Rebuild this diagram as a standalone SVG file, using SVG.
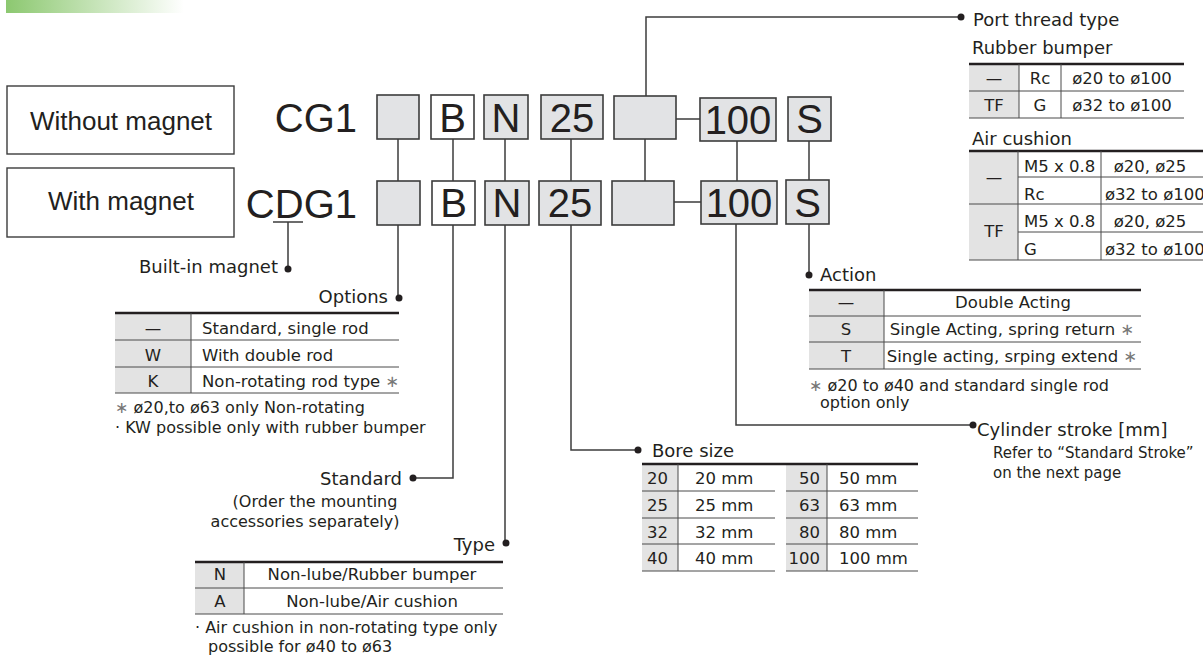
<svg xmlns="http://www.w3.org/2000/svg" width="1203" height="656" viewBox="0 0 1203 656">
<defs>
<linearGradient id="gb" x1="0" y1="0" x2="1" y2="0">
<stop offset="0" stop-color="#8cc870"/>
<stop offset="1" stop-color="#ffffff"/>
</linearGradient>
</defs>
<style>
text{fill:#231f20}
.lbl{font-family:"DejaVu Sans",sans-serif;font-size:18px}
.tb{font-family:"DejaVu Sans",sans-serif;font-size:16.5px}
.fn{font-family:"DejaVu Sans",sans-serif;font-size:16px}
.rf{font-family:"DejaVu Sans",sans-serif;font-size:15px}
.big{font-family:"Liberation Sans",Arial,sans-serif;font-size:40px}
.mid{font-family:"Liberation Sans",Arial,sans-serif;font-size:26px}
.c{text-anchor:middle}
.e{text-anchor:end}
.ln{stroke:#3c3c3c;stroke-width:1.5;fill:none}
.box{stroke:#3c3c3c;stroke-width:1.6;fill:#e2e3e5}
.wbox{stroke:#3c3c3c;stroke-width:1.6;fill:#ffffff}
.frame{stroke:#3c3c3c;stroke-width:1.4;fill:#ffffff}
.thick{stroke:#231f20;stroke-width:2.5}
.row{stroke:#4a4a4a;stroke-width:1}
.gray{fill:#e3e3e3}
.dot{fill:#231f20}
.ast{fill:#777}
</style>
<rect x="6" y="0" width="178" height="13" fill="url(#gb)"/>

<g id="connectors">
<!-- options -->
<path class="ln" d="M398 139V181M398 225V298"/>
<!-- standard B -->
<path class="ln" d="M453 139V181M453 225V478H413"/>
<!-- type N -->
<path class="ln" d="M505 139V181M505 225V543"/>
<!-- bore 25 -->
<path class="ln" d="M571 139V181M571 225V450H638"/>
<!-- port thread -->
<path class="ln" d="M646 96V17H961M645 139V181"/>
<path class="ln" d="M676 119H700M674 202H701"/>
<!-- stroke 100 -->
<path class="ln" d="M737 141V181M736 224V425H973"/>
<!-- action S -->
<path class="ln" d="M809 141V180M809 224V275"/>
<!-- built-in magnet -->
<path class="ln" d="M273 222H303M288 222V269"/>
<circle class="dot" cx="288" cy="269" r="3.5"/>
<circle class="dot" cx="399" cy="298" r="3.5"/>
<circle class="dot" cx="413" cy="478" r="3.5"/>
<circle class="dot" cx="506" cy="543" r="3.5"/>
<circle class="dot" cx="638" cy="450" r="3.5"/>
<circle class="dot" cx="961" cy="17" r="3.5"/>
<circle class="dot" cx="973" cy="425" r="3.5"/>
<circle class="dot" cx="809" cy="275" r="3.5"/>
</g>

<g id="without-magnet">
<rect class="frame" x="7" y="86" width="227" height="68"/>
<text class="mid c" x="121" y="130">Without magnet</text>
</g>
<g id="with-magnet">
<rect class="frame" x="7" y="168" width="227" height="69"/>
<text class="mid c" x="121" y="210">With magnet</text>
</g>

<g id="code-top">
<text class="big e" x="357" y="132">CG1</text>
<rect class="box" x="377" y="95" width="42" height="44"/>
<rect class="wbox" x="431" y="95" width="43" height="44"/>
<text class="big c" x="452.5" y="132">B</text>
<rect class="box" x="484" y="95" width="44" height="44"/>
<text class="big c" x="506" y="132">N</text>
<rect class="box" x="541" y="95" width="62" height="44"/>
<text class="big c" x="572" y="132">25</text>
<rect class="box" x="614" y="96" width="62" height="43"/>
<rect class="box" x="700" y="98" width="76" height="43"/>
<text class="big c" x="738" y="134">100</text>
<rect class="box" x="788" y="97" width="43" height="44"/>
<text class="big c" x="809.5" y="133">S</text>
</g>

<g id="code-bottom">
<text class="big e" x="357" y="218">CDG1</text>
<rect class="box" x="377" y="181" width="43" height="44"/>
<rect class="wbox" x="432" y="181" width="43" height="44"/>
<text class="big c" x="453.5" y="217">B</text>
<rect class="box" x="485" y="181" width="44" height="44"/>
<text class="big c" x="507" y="217">N</text>
<rect class="box" x="539" y="181" width="62" height="44"/>
<text class="big c" x="570" y="217">25</text>
<rect class="box" x="612" y="181" width="62" height="44"/>
<rect class="box" x="701" y="181" width="76" height="43"/>
<text class="big c" x="739" y="217">100</text>
<rect class="box" x="786" y="180" width="43" height="44"/>
<text class="big c" x="807.5" y="217">S</text>
</g>

<g id="built-in-magnet">
<text class="lbl e" x="278" y="273">Built-in magnet</text>
</g>

<g id="options">
<text class="lbl e" x="388" y="303">Options</text>
<rect class="gray" x="115" y="313" width="76" height="80"/>
<line class="thick" x1="115" y1="313" x2="399" y2="313"/>
<line class="row" x1="115" y1="340" x2="399" y2="340"/>
<line class="row" x1="115" y1="367" x2="399" y2="367"/>
<line class="row" x1="115" y1="393" x2="399" y2="393"/>
<line class="row" x1="191" y1="313" x2="191" y2="393"/>
<text class="tb c" x="153" y="334">—</text>
<text class="tb c" x="153" y="361">W</text>
<text class="tb c" x="153" y="387">K</text>
<text class="tb" x="202" y="334">Standard, single rod</text>
<text class="tb" x="202" y="361">With double rod</text>
<text class="tb" x="202" y="387">Non-rotating rod type <tspan class="ast">∗</tspan></text>
<text class="fn" x="115" y="413"><tspan class="ast">∗</tspan> ø20,to ø63 only Non-rotating</text>
<text class="fn" x="115" y="433">· KW possible only with rubber bumper</text>
</g>

<g id="standard">
<text class="lbl e" x="402" y="485">Standard</text>
<text class="fn c" x="315" y="507">(Order the mounting</text>
<text class="fn c" x="305" y="527">accessories separately)</text>
</g>

<g id="type">
<text class="lbl e" x="495" y="551">Type</text>
<rect class="gray" x="195" y="562" width="49" height="52"/>
<line class="thick" x1="195" y1="562" x2="503" y2="562"/>
<line class="row" x1="195" y1="588" x2="503" y2="588"/>
<line class="row" x1="195" y1="614" x2="503" y2="614"/>
<line class="row" x1="244" y1="562" x2="244" y2="614"/>
<text class="tb c" x="220" y="580">N</text>
<text class="tb c" x="220" y="607">A</text>
<text class="tb c" x="372" y="580">Non-lube/Rubber bumper</text>
<text class="tb c" x="372" y="607">Non-lube/Air cushion</text>
<text class="fn" x="195" y="633">· Air cushion in non-rotating type only</text>
<text class="fn" x="208" y="652">possible for ø40 to ø63</text>
</g>

<g id="bore-size">
<text class="lbl" x="652" y="457">Bore size</text>
<rect class="gray" x="642" y="464" width="36" height="107"/>
<rect class="gray" x="786" y="464" width="41" height="107"/>
<line class="thick" x1="642" y1="464" x2="918" y2="464"/>
<path class="row" d="M642 491H775M642 518H775M642 544H775M642 571H775M786 491H918M786 518H918M786 544H918M786 571H918M678 464V571M827 464V571"/>
<text class="tb" x="647" y="484">20</text>
<text class="tb" x="647" y="511">25</text>
<text class="tb" x="647" y="538">32</text>
<text class="tb" x="647" y="564">40</text>
<text class="tb" x="695" y="484">20 mm</text>
<text class="tb" x="695" y="511">25 mm</text>
<text class="tb" x="695" y="538">32 mm</text>
<text class="tb" x="695" y="564">40 mm</text>
<text class="tb e" x="820" y="484">50</text>
<text class="tb e" x="820" y="511">63</text>
<text class="tb e" x="820" y="538">80</text>
<text class="tb e" x="820" y="564">100</text>
<text class="tb" x="839" y="484">50 mm</text>
<text class="tb" x="839" y="511">63 mm</text>
<text class="tb" x="839" y="538">80 mm</text>
<text class="tb" x="839" y="564">100 mm</text>
</g>

<g id="action">
<text class="lbl" x="820" y="281">Action</text>
<rect class="gray" x="809" y="290" width="75" height="79"/>
<line class="thick" x1="809" y1="290" x2="1141" y2="290"/>
<path class="row" d="M809 316H1141M809 342H1141M809 369H1141M884 290V369"/>
<text class="tb c" x="846" y="308">—</text>
<text class="tb c" x="846" y="335">S</text>
<text class="tb c" x="846" y="362">T</text>
<text class="tb c" x="1013" y="308">Double Acting</text>
<text class="tb c" x="1012" y="335">Single Acting, spring return <tspan class="ast">∗</tspan></text>
<text class="tb c" x="1012" y="362">Single acting, srping extend <tspan class="ast">∗</tspan></text>
<text class="fn" x="809" y="391"><tspan class="ast">∗</tspan> ø20 to ø40 and standard single rod</text>
<text class="fn" x="820" y="408">option only</text>
</g>

<g id="cylinder-stroke">
<text class="lbl" x="977" y="436">Cylinder stroke [mm]</text>
<text class="rf" x="993" y="458">Refer to “Standard Stroke”</text>
<text class="rf" x="993" y="478">on the next page</text>
</g>

<g id="port-thread">
<text class="lbl" x="973" y="26">Port thread type</text>
<text class="lbl" x="972" y="54">Rubber bumper</text>
<rect class="gray" x="969" y="64" width="50" height="54"/>
<line class="thick" x1="969" y1="64" x2="1184" y2="64"/>
<path class="row" d="M969 91H1184M969 118H1184M1019 64V118M1061 64V118"/>
<text class="tb c" x="994" y="84">—</text>
<text class="tb c" x="994" y="111">TF</text>
<text class="tb c" x="1040" y="84">Rc</text>
<text class="tb c" x="1040" y="111">G</text>
<text class="tb c" x="1122" y="84">ø20 to ø100</text>
<text class="tb c" x="1122" y="111">ø32 to ø100</text>

<text class="lbl" x="972" y="145">Air cushion</text>
<rect class="gray" x="969" y="151" width="49" height="109"/>
<line class="thick" x1="969" y1="151" x2="1210" y2="151"/>
<path class="row" d="M1018 177H1210M969 204H1210M1018 232H1210M969 260H1210M1018 151V260M1101 151V260"/>
<text class="tb c" x="994" y="183">—</text>
<text class="tb c" x="994" y="237">TF</text>
<text class="tb" x="1024" y="172">M5 x 0.8</text>
<text class="tb" x="1024" y="200">Rc</text>
<text class="tb" x="1024" y="227">M5 x 0.8</text>
<text class="tb" x="1024" y="255">G</text>
<text class="tb c" x="1150" y="172">ø20, ø25</text>
<text class="tb" x="1105" y="200">ø32 to ø100</text>
<text class="tb c" x="1150" y="227">ø20, ø25</text>
<text class="tb" x="1105" y="255">ø32 to ø100</text>
</g>
</svg>
